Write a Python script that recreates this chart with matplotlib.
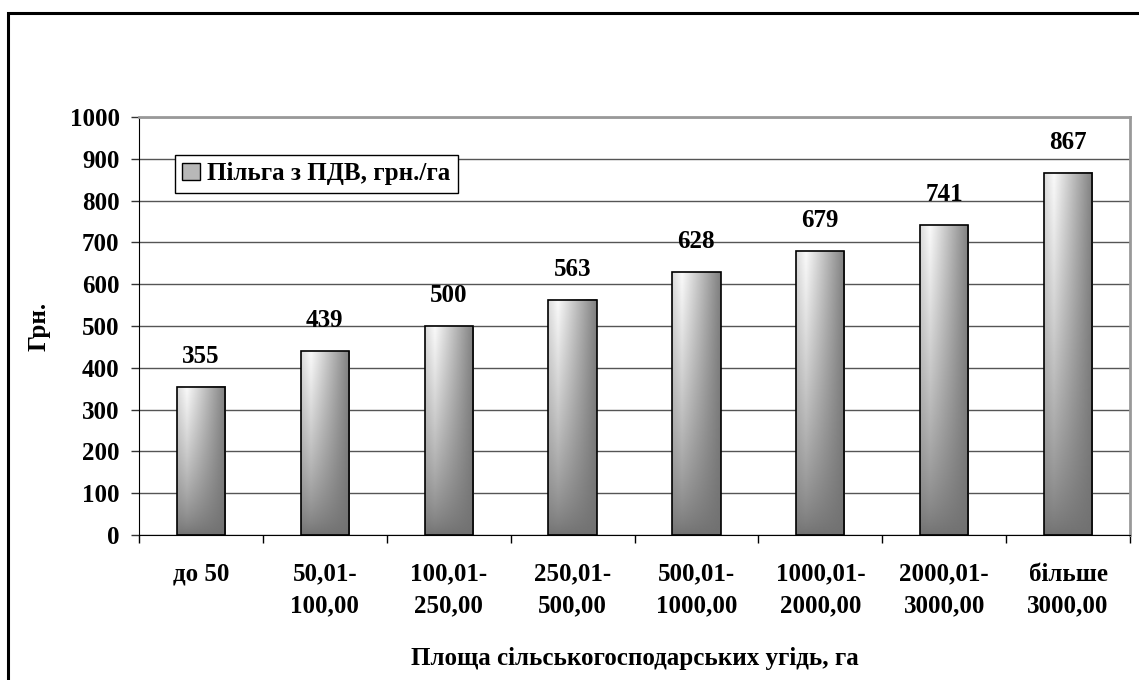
import matplotlib.pyplot as plt
import numpy as np
from matplotlib.patches import Rectangle

categories = ["до 50", "50,01-\n100,00", "100,01-\n250,00", "250,01-\n500,00",
              "500,01-\n1000,00", "1000,01-\n2000,00", "2000,01-\n3000,00", "більше\n3000,00"]
values = [355, 439, 500, 563, 628, 679, 741, 867]
series_name = "Пільга з ПДВ, грн./га"
y_ticks = list(range(0, 1001, 100))

plt.rcParams["font.family"] = ["Liberation Serif", "DejaVu Serif"]
plt.rcParams["font.weight"] = "bold"

W, H = 1139, 680
fig = plt.figure(figsize=(W / 100, H / 100), dpi=100)
ax = fig.add_axes([139 / W, 1 - 535 / H, (1130 - 139) / W, (535 - 117) / H])

# gradient used to fill each bar: light upper left, dark bottom and right
nx, ny = 80, 200
xs = np.linspace(0, 1, nx)
ys = np.linspace(0, 1, ny)[:, None]
top = np.where(xs < 0.2, 0.86 + 0.12 * xs / 0.2, 0.98 - 0.48 * (xs - 0.2) / 0.8)
bottom = 0.44
grad = bottom + (top - bottom) * ys ** 0.7

width = 0.39
x = np.arange(len(values))
bars = ax.bar(x, values, width=width, facecolor="none", edgecolor="black",
              linewidth=1.2, zorder=3)
for rect in bars:
    x0, w, h = rect.get_x(), rect.get_width(), rect.get_height()
    ax.imshow(grad, extent=(x0, x0 + w, 0, h), origin="lower", cmap="gray",
              vmin=0, vmax=1, aspect="auto", zorder=2, interpolation="bilinear")

for xi, v in zip(x, values):
    ax.annotate(str(v), (xi, v), xytext=(0, 22), textcoords="offset points",
                ha="center", va="center", fontsize=18, fontweight="bold")

ax.set_xlim(-0.5, len(values) - 0.5)
ax.set_ylim(0, 1000)
ax.set_yticks(y_ticks)
ax.tick_params(axis="y", labelsize=18, length=6, width=1, pad=8, color="#333333")
ax.yaxis.grid(True, color="#555555", linewidth=1.0, zorder=0)
ax.set_axisbelow(True)

ax.set_xticks(np.arange(len(values) + 1) - 0.5)
ax.set_xticklabels([])
ax.tick_params(axis="x", which="major", length=6, width=1, direction="out")
ax.set_xticks(x, minor=True)
ax.set_xticklabels(categories, minor=True, fontsize=18, fontweight="bold",
                   linespacing=1.45)
ax.tick_params(axis="x", which="minor", length=0, pad=20)

ax.spines["left"].set_color("black")
ax.spines["bottom"].set_color("black")
ax.spines["bottom"].set_zorder(4)
for side in ("top", "right"):
    ax.spines[side].set_color("#999999")
    ax.spines[side].set_linewidth(2)

ax.set_ylabel("Грн.", fontsize=18, fontweight="bold", labelpad=14)
ax.set_xlabel("Площа сільськогосподарських угідь, га", fontsize=18,
              fontweight="bold", labelpad=22)

handle = Rectangle((0, 0), 1, 1, facecolor="#b8b8b8", edgecolor="black", linewidth=1)
leg = ax.legend([handle], [series_name], loc="upper left",
                bbox_to_anchor=(0.036, 0.91), borderaxespad=0,
                prop={"weight": "bold", "size": 18}, fancybox=False,
                edgecolor="black", framealpha=1, handlelength=0.7,
                handleheight=0.7, handletextpad=0.3, borderpad=0.3)
leg.get_frame().set_linewidth(1)

# outer chart frame, only left and top edges fall inside the picture
fig.add_artist(Rectangle((8 / W, -0.1), 2, 1.1 - 13 / H, transform=fig.transFigure,
                         fill=False, edgecolor="black", linewidth=2.2))

fig.savefig("out.png", dpi=100)
